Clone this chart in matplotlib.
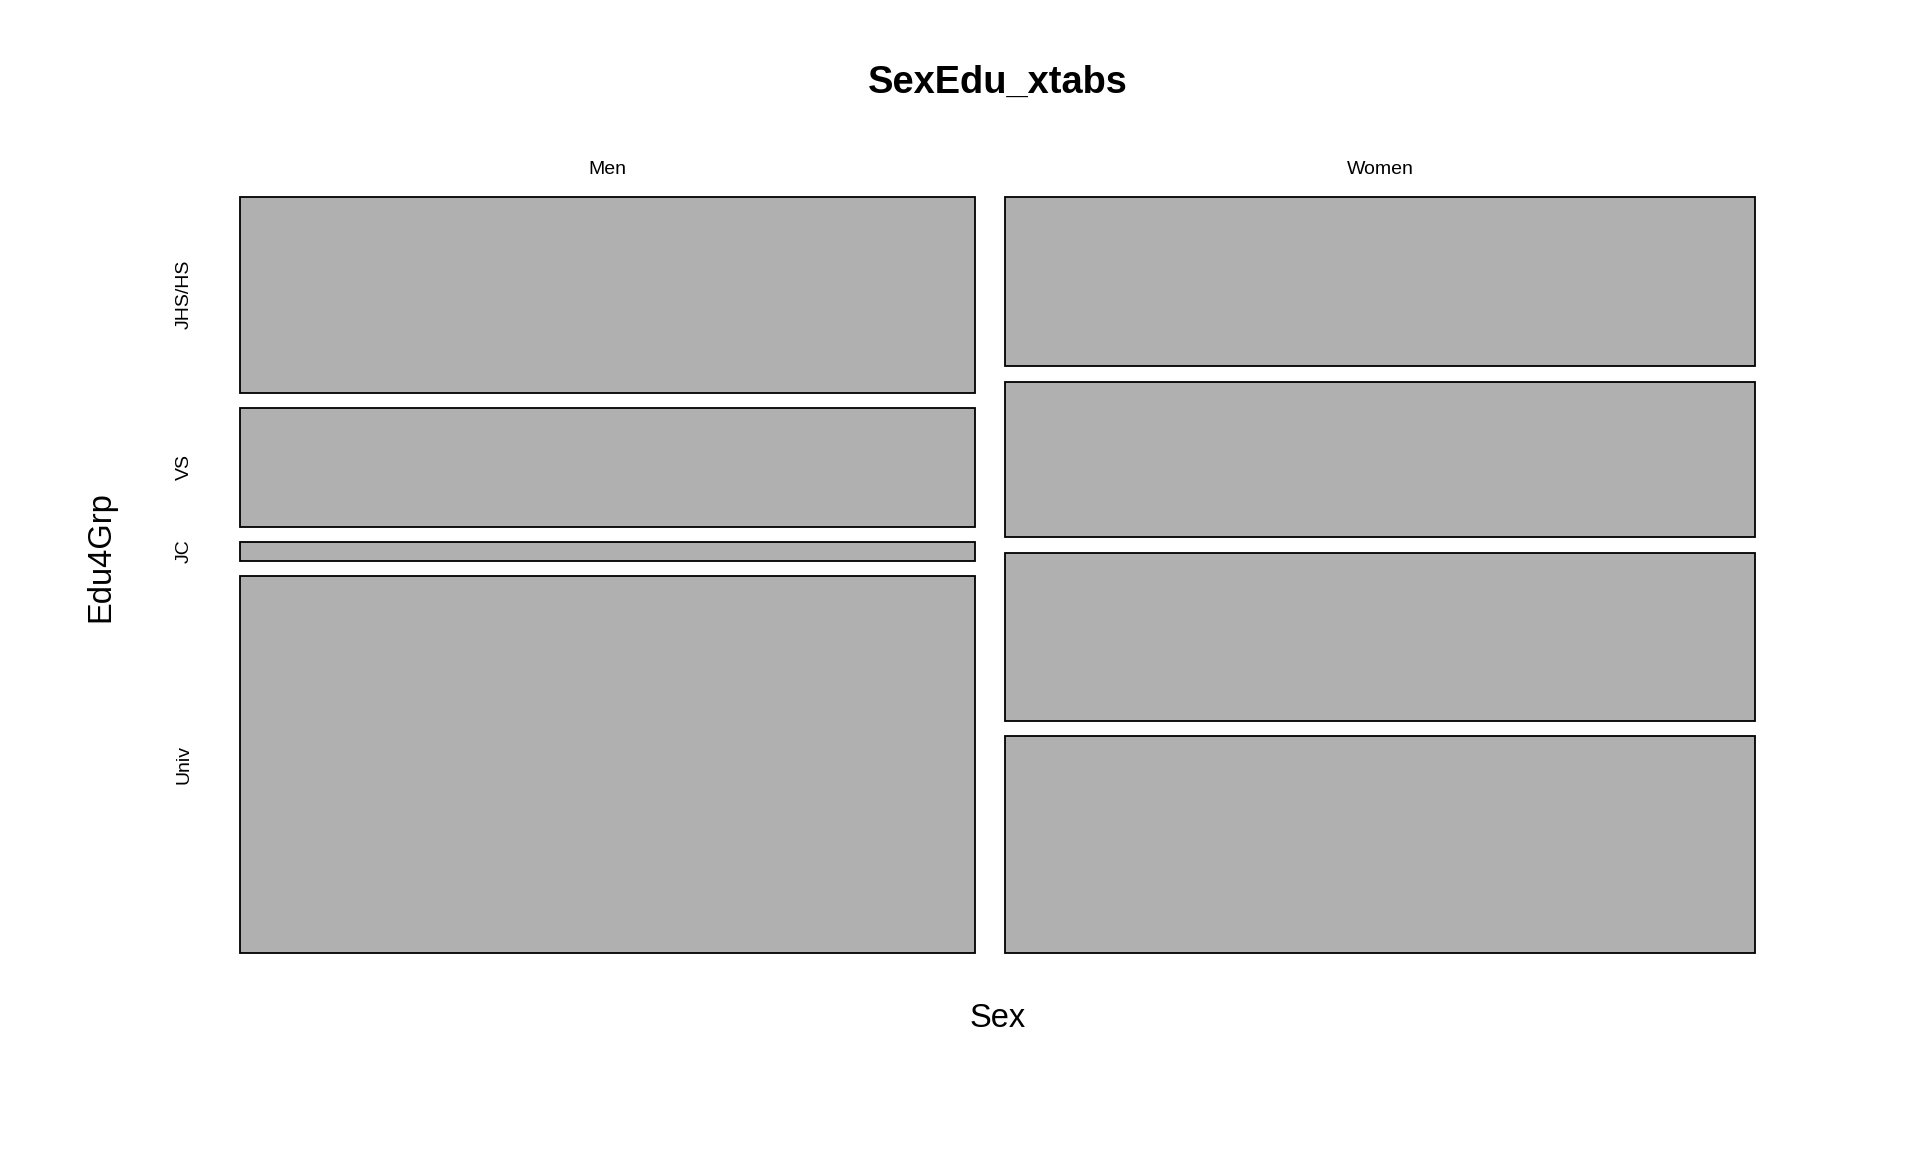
import matplotlib
matplotlib.use("Agg")
import matplotlib.pyplot as plt
from matplotlib.patches import Rectangle
import numpy as np

plt.rcParams['font.family'] = ['Liberation Sans', 'DejaVu Sans']

sexes = ["Men", "Women"]
edu_groups = ["JHS/HS", "VS", "JC", "Univ"]
men_counts = [253, 153, 24, 486]
women_counts = [223, 205, 221, 285]

table = np.array([men_counts, women_counts], dtype=float)

W, H = 1920, 1152
fig = plt.figure(figsize=(W / 100, H / 100), dpi=100)
fig.patch.set_facecolor("white")

# mosaic region in pixels
x0, x1 = 239.7, 1755.3
y0, y1 = 196.7, 952.7
ax = fig.add_axes([x0 / W, 1 - y1 / H, (x1 - x0) / W, (y1 - y0) / H])
ax.set_xlim(0, 1)
ax.set_ylim(0, 1)
ax.axis("off")

gx = 30.0 / (x1 - x0)
gy = 15.3 / (y1 - y0)

col_tot = table.sum(axis=1)
col_w = (1 - gx * (len(sexes) - 1)) * col_tot / col_tot.sum()

xs = 0.0
for i, sex in enumerate(sexes):
    props = table[i] / col_tot[i]
    hs = (1 - gy * (len(edu_groups) - 1)) * props
    ytop = 1.0
    row_centers = []
    for j, h in enumerate(hs):
        ax.add_patch(Rectangle((xs, ytop - h), col_w[i], h, facecolor="#B0B0B0",
                               edgecolor="black", linewidth=1.3, clip_on=False))
        row_centers.append(ytop - h / 2)
        ytop -= h + gy
    if i == 0:
        for lab, yc in zip(edu_groups, row_centers):
            ax.text((184.5 - x0) / (x1 - x0), yc, lab, rotation=90, ha="center",
                    va="center", fontsize=14, transform=ax.transAxes, clip_on=False)
    ax.text(xs + col_w[i] / 2, (y1 - 174.5) / (y1 - y0), sex, ha="center",
            va="baseline", fontsize=14, clip_on=False)
    xs += col_w[i] + gx

fig.text(997.5 / W, 1 - 93.3 / H, "SexEdu_xtabs", ha="center", va="baseline",
         fontsize=27.4, fontweight="bold")
fig.text(998 / W, 1 - 1026.7 / H, "Sex", ha="center", va="baseline", fontsize=23.5)
fig.text(101 / W, 1 - 557 / H, "Edu4Grp", ha="center", va="center",
         rotation=90, fontsize=23.5)

fig.savefig("out.png", dpi=100, facecolor="white")
